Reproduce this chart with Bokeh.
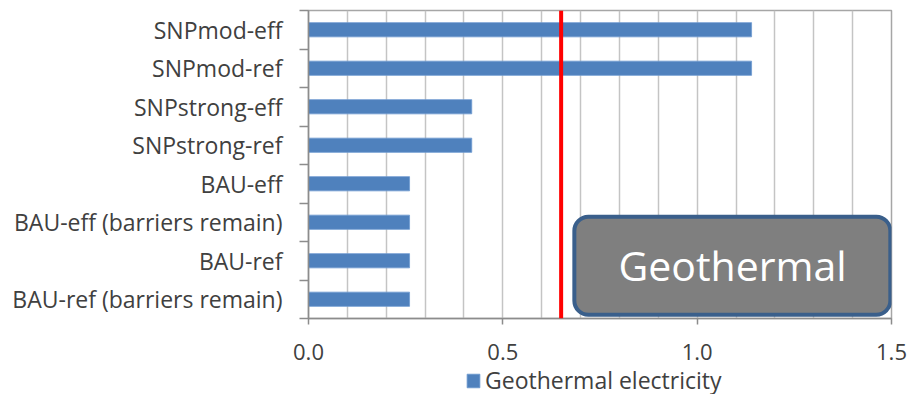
from bokeh.plotting import figure
from bokeh.layouts import column
from bokeh.models import (FixedTicker, Span, BoxAnnotation, Label, Legend, LegendItem)
from bokeh.embed import file_html
from bokeh.resources import INLINE

# Scenarios, listed top to bottom
scenarios = [
    "SNPmod-eff",
    "SNPmod-ref",
    "SNPstrong-eff",
    "SNPstrong-ref",
    "BAU-eff",
    "BAU-eff (barriers remain)",
    "BAU-ref",
    "BAU-ref (barriers remain)",
]
geothermal = [1.14, 1.14, 0.42, 0.42, 0.26, 0.26, 0.26, 0.26]
reference_level = 0.65
x_ticks = [0.0, 0.5, 1.0, 1.5]
x_grid = [0.1, 0.2, 0.3, 0.4, 0.6, 0.7, 0.8, 0.9, 1.1, 1.2, 1.3, 1.4]
series_name = "Geothermal electricity"

FONT = "Open Sans"
TEXT = "#404040"
AXIS = "#8c8c8c"
BAR = "#4f81bd"
BAR_EDGE = "#6f9bd0"
n = len(scenarios)
centers = [n - 0.5 - i for i in range(n)]
bounds = list(range(n + 1))
bar_style = dict(height=0.37, fill_color=BAR, line_color=BAR_EDGE, line_width=0.8)

p = figure(width=910, height=370, x_range=(0, 1.5), y_range=(0, n),
           output_backend="svg", toolbar_location=None,
           min_border_left=308, min_border_right=19,
           min_border_top=10, min_border_bottom=52)
p.background_fill_color = "white"
p.border_fill_color = "white"
p.outline_line_color = "#a6a6a6"
p.outline_line_width = 1.5

p.hbar(y=centers, right=geothermal, left=0, **bar_style)

# x axis: labelled major ticks every 0.5, light grid every 0.1
p.xaxis.ticker = FixedTicker(ticks=x_ticks, minor_ticks=x_grid)
p.xaxis.major_label_overrides = {t: f"{t:.1f}" for t in x_ticks}
p.xaxis.axis_line_color = AXIS
p.xaxis.axis_line_width = 1.5
p.xaxis.major_tick_line_color = AXIS
p.xaxis.major_tick_line_width = 1.5
p.xaxis.major_tick_out = 6
p.xaxis.major_tick_in = 0
p.xaxis.minor_tick_out = 0
p.xaxis.minor_tick_in = 0
p.xaxis.major_label_standoff = 19
p.xaxis.major_label_text_font = FONT
p.xaxis.major_label_text_font_size = "22px"
p.xaxis.major_label_text_color = TEXT

p.xgrid.grid_line_color = "#c4c4c4"
p.xgrid.grid_line_width = 1.5
p.xgrid.minor_grid_line_color = "#c4c4c4"
p.xgrid.minor_grid_line_width = 1.5
p.ygrid.grid_line_color = None

# y axis: names at row centres, tick marks between rows
p.yaxis.ticker = FixedTicker(ticks=centers, minor_ticks=bounds)
p.yaxis.major_label_overrides = {c: s for c, s in zip(centers, scenarios)}
p.yaxis.axis_line_color = AXIS
p.yaxis.axis_line_width = 1.5
p.yaxis.major_tick_out = 0
p.yaxis.major_tick_in = 0
p.yaxis.minor_tick_out = 9
p.yaxis.minor_tick_in = 0
p.yaxis.minor_tick_line_color = AXIS
p.yaxis.minor_tick_line_width = 1.5
p.yaxis.major_label_standoff = 17
p.yaxis.major_label_text_font = FONT
p.yaxis.major_label_text_font_size = "23px"
p.yaxis.major_label_text_color = TEXT

# reference level
p.add_layout(Span(location=reference_level, dimension="height",
                  line_color="#ff0000", line_width=4))

# title badge
p.add_layout(BoxAnnotation(left=0.684, right=1.497, bottom=0.096, top=2.644,
                           fill_color="#7f7f7f", fill_alpha=1.0,
                           line_color="#3a5f8b", line_width=4, line_alpha=1.0,
                           border_radius=14))
p.add_layout(Label(x=1.091, y=1.40, text="Geothermal", text_align="center",
                   text_baseline="middle", text_color="white",
                   text_font=FONT, text_font_size="41px"))

# legend strip under the chart (its frame lines up with the chart's frame);
# the series is drawn here too, but outside the strip's visible y range
leg = figure(width=910, height=24, x_range=(0, 1.5), y_range=(n, n + 1),
             output_backend="svg", toolbar_location=None,
             min_border=0, outline_line_color=None)
leg.axis.visible = False
leg.grid.visible = False
swatch = leg.hbar(y=centers, right=geothermal, left=0, **bar_style)
legend = Legend(items=[LegendItem(label=series_name, renderers=[swatch])],
                location=(157, -2), orientation="horizontal",
                glyph_width=16, glyph_height=17, label_standoff=4,
                label_height=15, label_text_line_height=0.9,
                padding=0, margin=0, spacing=0,
                border_line_color=None, background_fill_alpha=0,
                label_text_font=FONT, label_text_font_size="23px",
                label_text_color=TEXT)
leg.add_layout(legend, "center")

open("out.html", "w").write(file_html(column(p, leg, spacing=0), INLINE))
